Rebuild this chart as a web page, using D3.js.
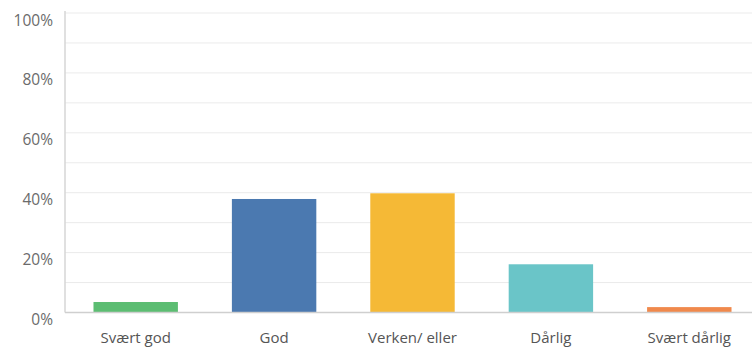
<!DOCTYPE html>
<html>
<head>
<meta charset="utf-8">
<script src="https://cdn.jsdelivr.net/npm/d3@7"></script>
<style>
  html, body { margin: 0; padding: 0; background: #fff; }
  svg { display: block; }
  text { font-family: "Open Sans", Lato, sans-serif; }
</style>
</head>
<body>
<svg id="chart" width="752" height="348"></svg>
<script>
// Survey answers (share of respondents, %)
const categories = ["Svært god", "God", "Verken/ eller", "Dårlig", "Svært dårlig"];
const values = [3.5, 37.9, 39.8, 16.1, 1.8];
const colors = ["#5cbd72", "#4b79b0", "#f5b936", "#6ac5c8", "#f0894c"];
const tickValues = [0, 20, 40, 60, 80, 100];
const gridValues = [10, 20, 30, 40, 50, 60, 70, 80, 90, 100];

const svg = d3.select("#chart");
const left = 65, zeroY = 312.5, topY = 13;

const y = d3.scaleLinear().domain([0, 100]).range([zeroY, topY]);
const x = d3.scaleBand().domain(categories).range([left + 1.5, 758.5]).paddingInner(0.39).paddingOuter(0.195);

// horizontal gridlines
svg.append("g").selectAll("line").data(gridValues).join("line")
  .attr("x1", left).attr("x2", 752)
  .attr("y1", d => y(d)).attr("y2", d => y(d))
  .attr("stroke", "#ebebeb").attr("stroke-width", 1);

// bars
svg.append("g").selectAll("rect").data(values).join("rect")
  .attr("x", (d, i) => x(categories[i]))
  .attr("width", x.bandwidth())
  .attr("y", d => y(d))
  .attr("height", d => zeroY - y(d))
  .attr("fill", (d, i) => colors[i]);

// axis lines
svg.append("line").attr("x1", left).attr("x2", left).attr("y1", topY - 2).attr("y2", zeroY)
  .attr("stroke", "#d6d6d6").attr("stroke-width", 1.5);
svg.append("line").attr("x1", left).attr("x2", 752).attr("y1", zeroY).attr("y2", zeroY)
  .attr("stroke", "#cfcfcf").attr("stroke-width", 1.5);

// y tick labels
svg.append("g").selectAll("text").data(tickValues).join("text")
  .attr("x", 53).attr("y", d => y(d) + 12.5)
  .attr("text-anchor", "end")
  .attr("font-size", 15.5).attr("fill", "#6b6b6b")
  .text(d => d + "%");

// category labels
svg.append("g").selectAll("text").data(categories).join("text")
  .attr("x", d => x(d) + x.bandwidth() / 2).attr("y", 342.5)
  .attr("text-anchor", "middle")
  .attr("font-size", 15).attr("fill", "#555")
  .text(d => d);
</script>
</body>
</html>
